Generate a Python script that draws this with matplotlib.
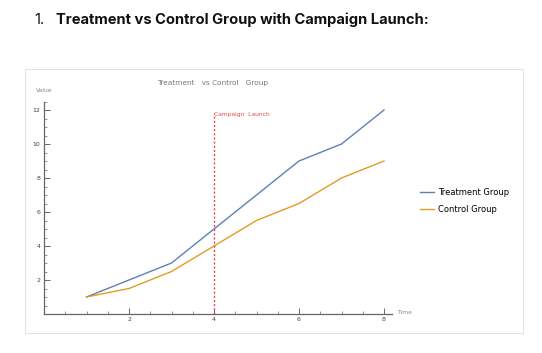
import matplotlib
matplotlib.use("Agg")
import matplotlib.pyplot as plt
from matplotlib.patches import Rectangle
from matplotlib.ticker import MultipleLocator

time = [1, 2, 3, 4, 5, 6, 7, 8]
treatment = [1, 2, 3, 5, 7, 9, 10, 12]
control = [1, 1.5, 2.5, 4, 5.5, 6.5, 8, 9]
launch_time = 4
launch_top = 11.8
x_ticks = [2, 4, 6, 8]
y_ticks = [2, 4, 6, 8, 10, 12]

W, H = 542, 353
fig = plt.figure(figsize=(W / 100, H / 100), dpi=100)

def fx(px):
    return px / W

def fy(py):
    return 1 - py / H

# card
fig.patches.append(Rectangle((fx(25), fy(333)), fx(523) - fx(25), fy(69) - fy(333),
                             transform=fig.transFigure, fill=False,
                             edgecolor="#e4e4e4", linewidth=0.8))

# heading
fig.text(fx(34), fy(20), "1.", fontsize=10.6, family="Inter", color="#111111", va="center")
fig.text(fx(56), fy(20), "Treatment vs Control Group with Campaign Launch:", fontsize=10.6,
         family="Inter", fontweight="bold", color="#111111", va="center")

# axes: x 0..8.2 mapped to px 44..392 ; y 0..12.5 mapped to px 314..101.5
x0, x1 = 44, 44 + 8.2 * 42.5
y0, y1 = 314, 314 - 12.5 * 17
ax = fig.add_axes([fx(x0), fy(y0), fx(x1) - fx(x0), fy(y1) - fy(y0)])
ax.set_xlim(0, 8.2)
ax.set_ylim(0, 12.5)
ax.patch.set_alpha(0)

ax.plot(time, treatment, color="#5E81B5", linewidth=1.0, label="Treatment Group")
ax.plot(time, control, color="#E19C24", linewidth=1.0, label="Control Group")
ax.plot([launch_time, launch_time], [0, launch_top], color="#E8474B", linewidth=1.0,
        linestyle=(0, (1.5, 1.5)))
ax.text(launch_time, launch_top - 0.05, "Campaign  Launch", color="#E8474B", fontsize=4.3,
        ha="left", va="center")

for s in ["top", "right"]:
    ax.spines[s].set_visible(False)
for s in ["left", "bottom"]:
    ax.spines[s].set_color("#666666")
    ax.spines[s].set_linewidth(0.9)

ax.set_xticks(x_ticks)
ax.set_yticks(y_ticks)
ax.xaxis.set_minor_locator(MultipleLocator(0.5))
ax.yaxis.set_minor_locator(MultipleLocator(0.5))
ax.tick_params(which="major", direction="in", length=4, width=0.7, color="#666666",
               labelsize=4.5, labelcolor="#444444", pad=2.5)
ax.tick_params(which="minor", direction="in", length=2, width=0.5, color="#666666")

fig.text(fx(36), fy(91), "Value", fontsize=4.3, color="#888888", va="center")
fig.text(fx(397), fy(313), "Time", fontsize=4.3, color="#888888", va="center")
fig.text(fx(213), fy(83), "Treatment   vs Control   Group", fontsize=5.3, color="#777777",
         ha="center", va="center")

handles, labels = ax.get_legend_handles_labels()
fig.legend(handles, labels, loc="upper left", bbox_to_anchor=(fx(417), fy(185)),
           frameon=False, fontsize=6, handlelength=1.6, handletextpad=0.55,
           labelspacing=0.95, borderaxespad=0)

fig.savefig("out.png", dpi=100, facecolor="white")
